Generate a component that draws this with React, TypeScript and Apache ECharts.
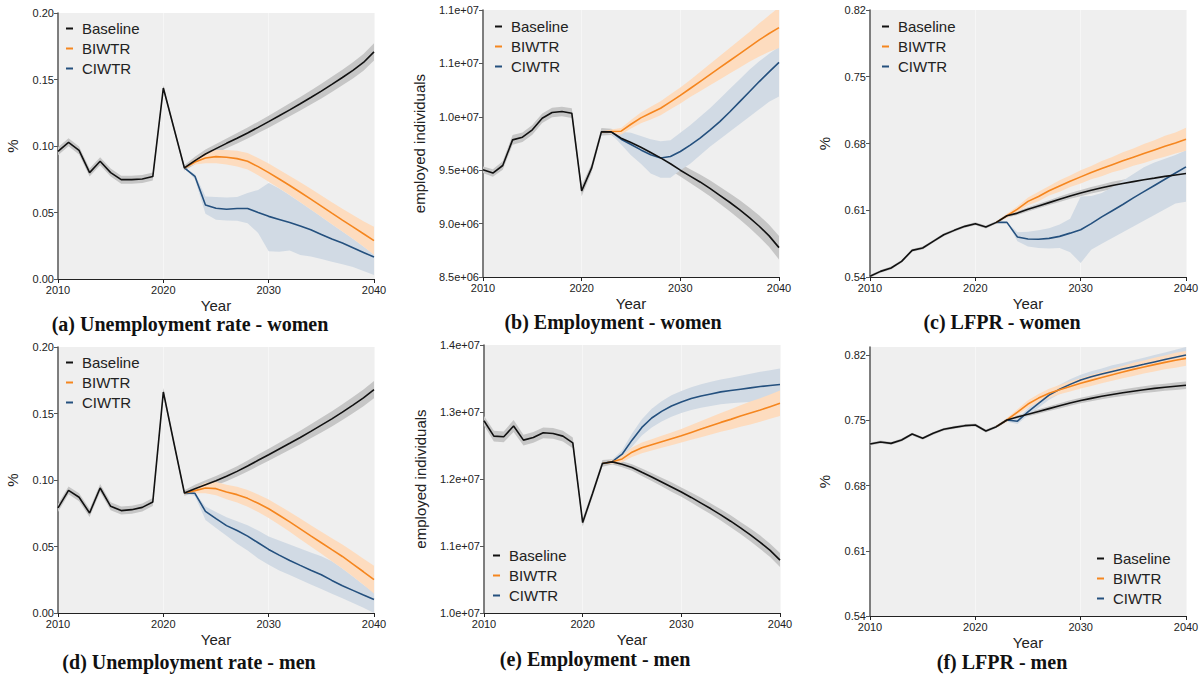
import React, { useEffect, useRef } from "react";
import * as echarts from "echarts";

// ---------- categories ----------
const YEARS = [2010, 2011, 2012, 2013, 2014, 2015, 2016, 2017, 2018, 2019, 2020, 2021, 2022, 2023, 2024, 2025, 2026, 2027, 2028, 2029, 2030, 2031, 2032, 2033, 2034, 2035, 2036, 2037, 2038, 2039, 2040];
const PROJ_YEARS = [2022, 2023, 2024, 2025, 2026, 2027, 2028, 2029, 2030, 2031, 2032, 2033, 2034, 2035, 2036, 2037, 2038, 2039, 2040];
const SERIES_NAMES = ["Baseline", "BIWTR", "CIWTR"];
const CAPTIONS = [
  "(a) Unemployment rate - women",
  "(b) Employment - women",
  "(c) LFPR - women",
  "(d) Unemployment rate - men",
  "(e) Employment - men",
  "(f) LFPR - men",
];
const TICKS_RATE = [0.0, 0.05, 0.1, 0.15, 0.2];
const TICKS_EMP_W = [8.5e6, 9.0e6, 9.5e6, 1.0e7, 1.05e7, 1.1e7];
const TICKS_EMP_M = [1.0e7, 1.1e7, 1.2e7, 1.3e7, 1.4e7];
const TICKS_LFPR = [0.54, 0.61, 0.68, 0.75, 0.82];

// ---------- (a) Unemployment rate - women ----------
const baseA = [0.096, 0.1028, 0.0967, 0.080, 0.0885, 0.080, 0.0747, 0.0747, 0.0752, 0.077, 0.1436, 0.1135, 0.0835, 0.089, 0.094, 0.098, 0.102, 0.1058, 0.1098, 0.114, 0.1183, 0.1227, 0.1272, 0.1318, 0.1365, 0.1413, 0.1463, 0.1515, 0.1568, 0.1628, 0.1708];
const baseHwA = [0.003, 0.003, 0.003, 0.003, 0.003, 0.003, 0.003, 0.003, 0.003, 0.003, 0.002, 0.002, 0.002, 0.003, 0.0033, 0.0035, 0.0037, 0.0039, 0.0041, 0.0043, 0.0045, 0.0047, 0.0049, 0.0051, 0.0053, 0.0055, 0.0057, 0.0059, 0.0061, 0.0063, 0.0065];
const biA = [0.0835, 0.088, 0.091, 0.092, 0.0915, 0.0905, 0.0885, 0.0845, 0.080, 0.0752, 0.0703, 0.0652, 0.060, 0.0548, 0.0495, 0.0443, 0.0392, 0.034, 0.0288];
const biHwA = [0, 0.002, 0.004, 0.005, 0.0055, 0.006, 0.0062, 0.0065, 0.0068, 0.007, 0.0072, 0.0075, 0.0078, 0.008, 0.0083, 0.0086, 0.009, 0.0095, 0.0105];
const ciA = [0.0835, 0.0772, 0.0557, 0.0532, 0.0525, 0.053, 0.053, 0.050, 0.0471, 0.0448, 0.0425, 0.0398, 0.037, 0.0335, 0.030, 0.027, 0.0235, 0.020, 0.0165];
const ciLoA = [0.0835, 0.075, 0.049, 0.0446, 0.044, 0.0438, 0.042, 0.0346, 0.0208, 0.0205, 0.0215, 0.018, 0.017, 0.015, 0.013, 0.011, 0.009, 0.006, 0.003];
const ciHiA = [0.0835, 0.079, 0.062, 0.0617, 0.0612, 0.0617, 0.0647, 0.067, 0.0722, 0.068, 0.063, 0.0577, 0.0522, 0.0468, 0.0412, 0.0357, 0.0302, 0.0245, 0.0185];

// ---------- (b) Employment - women ----------
const baseB = [9.504e6, 9.473e6, 9.544e6, 9.784e6, 9.809e6, 9.878e6, 9.987e6, 10.04e6, 10.049e6, 10.034e6, 9.307e6, 9.519e6, 9.859e6, 9.859e6, 9.80e6, 9.76e6, 9.715e6, 9.665e6, 9.615e6, 9.56e6, 9.50e6, 9.445e6, 9.39e6, 9.33e6, 9.265e6, 9.20e6, 9.13e6, 9.055e6, 8.975e6, 8.885e6, 8.775e6];
const baseHwB = [0.03e6, 0.035e6, 0.04e6, 0.045e6, 0.045e6, 0.045e6, 0.045e6, 0.045e6, 0.045e6, 0.045e6, 0.05e6, 0.04e6, 0.035e6, 0.03e6, 0.035e6, 0.04e6, 0.045e6, 0.05e6, 0.055e6, 0.06e6, 0.06e6, 0.065e6, 0.07e6, 0.075e6, 0.08e6, 0.085e6, 0.09e6, 0.095e6, 0.1e6, 0.105e6, 0.11e6];
const biB = [9.859e6, 9.862e6, 9.865e6, 9.93e6, 9.99e6, 10.035e6, 10.08e6, 10.14e6, 10.2e6, 10.265e6, 10.33e6, 10.395e6, 10.46e6, 10.525e6, 10.59e6, 10.655e6, 10.72e6, 10.78e6, 10.835e6];
const biHwB = [0, 0.02e6, 0.03e6, 0.04e6, 0.05e6, 0.06e6, 0.065e6, 0.07e6, 0.075e6, 0.08e6, 0.09e6, 0.1e6, 0.11e6, 0.12e6, 0.13e6, 0.14e6, 0.155e6, 0.17e6, 0.19e6];
const ciB = [9.859e6, 9.859e6, 9.79e6, 9.74e6, 9.69e6, 9.645e6, 9.615e6, 9.628e6, 9.675e6, 9.735e6, 9.80e6, 9.875e6, 9.955e6, 10.045e6, 10.14e6, 10.235e6, 10.33e6, 10.42e6, 10.51e6];
const ciLoB = [9.859e6, 9.84e6, 9.74e6, 9.64e6, 9.56e6, 9.47e6, 9.43e6, 9.43e6, 9.50e6, 9.56e6, 9.64e6, 9.72e6, 9.79e6, 9.86e6, 9.93e6, 10.0e6, 10.07e6, 10.14e6, 10.19e6];
const ciHiB = [9.859e6, 9.875e6, 9.86e6, 9.85e6, 9.82e6, 9.79e6, 9.77e6, 9.78e6, 9.85e6, 9.92e6, 10.0e6, 10.08e6, 10.17e6, 10.26e6, 10.35e6, 10.44e6, 10.52e6, 10.59e6, 10.655e6];

// ---------- (c) LFPR - women ----------
const baseC = [0.5407, 0.5459, 0.5494, 0.5564, 0.5679, 0.5704, 0.5774, 0.5843, 0.5889, 0.5931, 0.5959, 0.5924, 0.5973, 0.6042, 0.607, 0.611, 0.6145, 0.618, 0.6215, 0.625, 0.628, 0.631, 0.6335, 0.636, 0.638, 0.640, 0.642, 0.6437, 0.6455, 0.647, 0.6485];
const baseHwC = [0.0015, 0.0015, 0.0015, 0.0015, 0.0015, 0.0015, 0.0015, 0.0015, 0.0015, 0.0015, 0.0015, 0.0015, 0.0015, 0.0018, 0.002, 0.0022, 0.0024, 0.0026, 0.0028, 0.003, 0.0032, 0.0034, 0.0036, 0.0038, 0.004, 0.0042, 0.0044, 0.0046, 0.0048, 0.005, 0.0052];
const biC = [0.5973, 0.6042, 0.6112, 0.6193, 0.6245, 0.6305, 0.6355, 0.6405, 0.645, 0.6495, 0.6537, 0.6578, 0.6618, 0.6657, 0.6695, 0.6733, 0.677, 0.6806, 0.6845];
const biHwC = [0, 0.002, 0.003, 0.004, 0.005, 0.005, 0.006, 0.006, 0.007, 0.007, 0.008, 0.008, 0.009, 0.009, 0.01, 0.01, 0.011, 0.011, 0.012];
const ciC = [0.5973, 0.5973, 0.5819, 0.5798, 0.5796, 0.5805, 0.5826, 0.586, 0.5896, 0.596, 0.603, 0.6095, 0.616, 0.623, 0.6295, 0.636, 0.6425, 0.649, 0.6555];
const ciLoC = [0.5973, 0.5973, 0.5774, 0.5721, 0.5704, 0.570, 0.5705, 0.566, 0.5547, 0.5685, 0.575, 0.581, 0.587, 0.593, 0.599, 0.605, 0.611, 0.617, 0.619];
const ciHiC = [0.5973, 0.5973, 0.5868, 0.5875, 0.589, 0.591, 0.595, 0.601, 0.6245, 0.625, 0.628, 0.634, 0.641, 0.648, 0.655, 0.660, 0.664, 0.668, 0.673];

// ---------- (d) Unemployment rate - men ----------
const baseD = [0.079, 0.0922, 0.087, 0.0752, 0.094, 0.0802, 0.077, 0.0777, 0.0794, 0.0835, 0.1662, 0.128, 0.0902, 0.0935, 0.0965, 0.0995, 0.1028, 0.1065, 0.1105, 0.1148, 0.119, 0.1233, 0.1276, 0.132, 0.1366, 0.1413, 0.146, 0.151, 0.1563, 0.1618, 0.168];
const baseHwD = [0.003, 0.003, 0.003, 0.003, 0.003, 0.003, 0.003, 0.003, 0.003, 0.003, 0.003, 0.002, 0.002, 0.003, 0.0033, 0.0035, 0.0037, 0.0039, 0.0041, 0.0043, 0.0045, 0.0047, 0.0049, 0.0051, 0.0053, 0.0055, 0.0057, 0.0059, 0.0061, 0.0063, 0.0065];
const biD = [0.0902, 0.092, 0.094, 0.0935, 0.091, 0.089, 0.0862, 0.0825, 0.0784, 0.0735, 0.0685, 0.0633, 0.058, 0.0528, 0.0476, 0.0425, 0.0368, 0.031, 0.0251];
const biHwD = [0, 0.002, 0.004, 0.005, 0.0055, 0.006, 0.0063, 0.0066, 0.007, 0.0072, 0.0075, 0.0078, 0.008, 0.0083, 0.0086, 0.009, 0.0094, 0.0098, 0.0105];
const ciD = [0.0902, 0.090, 0.0764, 0.0709, 0.0657, 0.062, 0.0578, 0.0528, 0.0478, 0.0435, 0.0395, 0.0358, 0.0322, 0.0287, 0.0245, 0.0205, 0.017, 0.0135, 0.0101];
const ciLoD = [0.0902, 0.088, 0.070, 0.064, 0.058, 0.052, 0.047, 0.041, 0.0363, 0.032, 0.0285, 0.025, 0.0215, 0.018, 0.0145, 0.011, 0.0075, 0.004, 0.0];
const ciHiD = [0.0902, 0.0905, 0.080, 0.076, 0.072, 0.069, 0.066, 0.062, 0.0576, 0.0545, 0.0515, 0.0485, 0.0455, 0.0426, 0.039, 0.0335, 0.0274, 0.0212, 0.0155];

// ---------- (e) Employment - men ----------
const baseE = [12.869e6, 12.64e6, 12.63e6, 12.79e6, 12.58e6, 12.62e6, 12.69e6, 12.68e6, 12.64e6, 12.54e6, 11.35e6, 11.783e6, 12.232e6, 12.256e6, 12.22e6, 12.172e6, 12.10e6, 12.03e6, 11.955e6, 11.88e6, 11.805e6, 11.725e6, 11.64e6, 11.555e6, 11.465e6, 11.37e6, 11.27e6, 11.165e6, 11.055e6, 10.935e6, 10.79e6];
const baseHwE = [0.07e6, 0.08e6, 0.08e6, 0.09e6, 0.08e6, 0.08e6, 0.08e6, 0.08e6, 0.08e6, 0.08e6, 0.06e6, 0.05e6, 0.05e6, 0.04e6, 0.045e6, 0.05e6, 0.055e6, 0.06e6, 0.065e6, 0.07e6, 0.07e6, 0.075e6, 0.08e6, 0.08e6, 0.085e6, 0.09e6, 0.09e6, 0.095e6, 0.1e6, 0.1e6, 0.105e6];
const biE = [12.232e6, 12.256e6, 12.30e6, 12.40e6, 12.465e6, 12.51e6, 12.555e6, 12.60e6, 12.645e6, 12.695e6, 12.745e6, 12.795e6, 12.845e6, 12.89e6, 12.94e6, 12.985e6, 13.03e6, 13.08e6, 13.13e6];
const biHwE = [0, 0.03e6, 0.05e6, 0.07e6, 0.08e6, 0.085e6, 0.09e6, 0.095e6, 0.1e6, 0.11e6, 0.12e6, 0.13e6, 0.14e6, 0.15e6, 0.16e6, 0.17e6, 0.175e6, 0.18e6, 0.19e6];
const ciE = [12.232e6, 12.26e6, 12.37e6, 12.58e6, 12.77e6, 12.91e6, 13.01e6, 13.09e6, 13.15e6, 13.20e6, 13.24e6, 13.27e6, 13.30e6, 13.32e6, 13.34e6, 13.36e6, 13.38e6, 13.395e6, 13.41e6];
const ciHwE = [0, 0.03e6, 0.06e6, 0.1e6, 0.12e6, 0.14e6, 0.15e6, 0.16e6, 0.165e6, 0.17e6, 0.175e6, 0.18e6, 0.185e6, 0.19e6, 0.2e6, 0.21e6, 0.22e6, 0.23e6, 0.24e6];

// ---------- (f) LFPR - men ----------
const baseF = [0.7245, 0.7267, 0.7252, 0.7288, 0.7352, 0.7306, 0.736, 0.7403, 0.7424, 0.7442, 0.7449, 0.7385, 0.7431, 0.7503, 0.7535, 0.7565, 0.7595, 0.7625, 0.7655, 0.7685, 0.7712, 0.7735, 0.7757, 0.7777, 0.7795, 0.7812, 0.7828, 0.7842, 0.7855, 0.7865, 0.7875];
const baseHwF = [0.0015, 0.0015, 0.0015, 0.0015, 0.0015, 0.0015, 0.0015, 0.0015, 0.0015, 0.0015, 0.0015, 0.0015, 0.0015, 0.0018, 0.002, 0.0022, 0.0024, 0.0026, 0.0028, 0.003, 0.003, 0.0032, 0.0032, 0.0034, 0.0034, 0.0036, 0.0036, 0.0038, 0.0038, 0.004, 0.004];
const biF = [0.7431, 0.7503, 0.7588, 0.7674, 0.7738, 0.7789, 0.7828, 0.7863, 0.7896, 0.7928, 0.7958, 0.7988, 0.8017, 0.8046, 0.8072, 0.8097, 0.8121, 0.8143, 0.8164];
const biHwF = [0, 0.002, 0.003, 0.004, 0.0045, 0.005, 0.005, 0.0055, 0.0055, 0.006, 0.006, 0.0065, 0.0065, 0.007, 0.007, 0.0075, 0.0075, 0.008, 0.008];
const ciF = [0.7431, 0.7503, 0.749, 0.759, 0.768, 0.777, 0.7832, 0.7885, 0.7932, 0.7966, 0.7996, 0.8024, 0.805, 0.8075, 0.81, 0.8126, 0.8151, 0.8176, 0.82];
const ciHwF = [0, 0.002, 0.003, 0.004, 0.0045, 0.005, 0.005, 0.0055, 0.0055, 0.006, 0.006, 0.0065, 0.0065, 0.007, 0.007, 0.0075, 0.0075, 0.008, 0.0085];

// ---------- styling ----------
const COL_BASE = "#111111";
const COL_BI = "#f5861f";
const COL_CI = "#24507e";
const BAND_BASE = "#c6c6c6";
const BAND_BI = "#fddcbf";
const BAND_CI = "#d1dae4";
const PLOT_BG = "#efefef";
const SANS = '"Liberation Sans", Arial, Helvetica, sans-serif';
const SERIF = '"Liberation Serif", "Times New Roman", serif';

const sub = (a: number[], b: number[]) => a.map((v, i) => v - b[i]);
const add = (a: number[], b: number[]) => a.map((v, i) => v + b[i]);
const pairs = (xs: number[], ys: number[]) => xs.map((x, i) => [x, ys[i]]);

const expFmt = (v: number) => v.toExponential(1).replace(/e([+-])(\d)$/, "e$10$2");
const f2 = (v: number) => v.toFixed(2);

type Panel = {
  grid: { left: number; top: number; width: number; height: number };
  yMin: number; yMax: number; ticks: number[]; fmt: (v: number) => string;
  yName: string; yNameGap: number;
  base: number[]; baseLo: number[]; baseHi: number[];
  bi: number[]; biLo: number[]; biHi: number[];
  ci: number[]; ciLo: number[]; ciHi: number[];
  legend: { left: number; top: number };
  caption: { x: number; y: number };
};

const PANELS: Panel[] = [
  {
    grid: { left: 58, top: 13, width: 316, height: 266 }, yMin: 0, yMax: 0.2, ticks: TICKS_RATE, fmt: f2,
    yName: "%", yNameGap: 38,
    base: baseA, baseLo: sub(baseA, baseHwA), baseHi: add(baseA, baseHwA),
    bi: biA, biLo: sub(biA, biHwA), biHi: add(biA, biHwA),
    ci: ciA, ciLo: ciLoA, ciHi: ciHiA,
    legend: { left: 66, top: 21 }, caption: { x: 190, y: 324 },
  },
  {
    grid: { left: 483, top: 10, width: 296, height: 267 }, yMin: 8.5e6, yMax: 1.1e7, ticks: TICKS_EMP_W, fmt: expFmt,
    yName: "employed individuals", yNameGap: 56,
    base: baseB, baseLo: sub(baseB, baseHwB), baseHi: add(baseB, baseHwB),
    bi: biB, biLo: sub(biB, biHwB), biHi: add(biB, biHwB),
    ci: ciB, ciLo: ciLoB, ciHi: ciHiB,
    legend: { left: 495, top: 19 }, caption: { x: 613, y: 322 },
  },
  {
    grid: { left: 870, top: 10, width: 316, height: 267 }, yMin: 0.54, yMax: 0.82, ticks: TICKS_LFPR, fmt: f2,
    yName: "%", yNameGap: 38,
    base: baseC, baseLo: sub(baseC, baseHwC), baseHi: add(baseC, baseHwC),
    bi: biC, biLo: sub(biC, biHwC), biHi: add(biC, biHwC),
    ci: ciC, ciLo: ciLoC, ciHi: ciHiC,
    legend: { left: 882, top: 19 }, caption: { x: 1002, y: 322 },
  },
  {
    grid: { left: 58, top: 347, width: 316, height: 266 }, yMin: 0, yMax: 0.2, ticks: TICKS_RATE, fmt: f2,
    yName: "%", yNameGap: 38,
    base: baseD, baseLo: sub(baseD, baseHwD), baseHi: add(baseD, baseHwD),
    bi: biD, biLo: sub(biD, biHwD), biHi: add(biD, biHwD),
    ci: ciD, ciLo: ciLoD, ciHi: ciHiD,
    legend: { left: 66, top: 355 }, caption: { x: 189, y: 662 },
  },
  {
    grid: { left: 484, top: 345, width: 296, height: 268 }, yMin: 1.0e7, yMax: 1.4e7, ticks: TICKS_EMP_M, fmt: expFmt,
    yName: "employed individuals", yNameGap: 56,
    base: baseE, baseLo: sub(baseE, baseHwE), baseHi: add(baseE, baseHwE),
    bi: biE, biLo: sub(biE, biHwE), biHi: add(biE, biHwE),
    ci: ciE, ciLo: sub(ciE, ciHwE), ciHi: add(ciE, ciHwE),
    legend: { left: 493, top: 548 }, caption: { x: 595, y: 659 },
  },
  {
    grid: { left: 870, top: 347, width: 316, height: 269 }, yMin: 0.54, yMax: 0.8286, ticks: TICKS_LFPR, fmt: f2,
    yName: "%", yNameGap: 38,
    base: baseF, baseLo: sub(baseF, baseHwF), baseHi: add(baseF, baseHwF),
    bi: biF, biLo: sub(biF, biHwF), biHi: add(biF, biHwF),
    ci: ciF, ciLo: sub(ciF, ciHwF), ciHi: add(ciF, ciHwF),
    legend: { left: 1097, top: 551 }, caption: { x: 1002, y: 662 },
  },
];

// A confidence band drawn as one polygon through the axis scales (api.coord)
function bandSeries(key: string, idx: number, xs: number[], lo: number[], hi: number[], color: string, z: number) {
  return {
    type: "custom", name: key, xAxisIndex: idx, yAxisIndex: idx, z, silent: true, clip: true,
    data: xs.map((x, i) => [x, lo[i], hi[i]]),
    encode: { x: 0, y: [1, 2] },
    renderItem: (params: any, api: any) => {
      if (params.dataIndex !== 0) return null;
      const pts: number[][] = [];
      for (let i = 0; i < xs.length; i++) pts.push(api.coord([xs[i], hi[i]]));
      for (let i = xs.length - 1; i >= 0; i--) pts.push(api.coord([xs[i], lo[i]]));
      return { type: "polygon", shape: { points: pts }, style: { fill: color, stroke: null } };
    },
  };
}

function lineSeries(name: string, idx: number, xs: number[], ys: number[], color: string, z: number) {
  return {
    type: "line", name, xAxisIndex: idx, yAxisIndex: idx, data: pairs(xs, ys), symbol: "none",
    color, itemStyle: { color }, lineStyle: { color, width: 1.6 }, z,
  };
}

function buildOption() {
  const grid: any[] = [];
  const xAxis: any[] = [];
  const yAxis: any[] = [];
  const series: any[] = [];
  const legend: any[] = [];
  const graphic: any[] = [];

  PANELS.forEach((p, i) => {
    grid.push({ ...p.grid, show: true, backgroundColor: PLOT_BG, borderWidth: 0, containLabel: false });
    xAxis.push({
      type: "value", gridIndex: i, min: 2010, max: 2040, interval: 10,
      name: "Year", nameLocation: "middle", nameGap: 19,
      nameTextStyle: { fontFamily: SANS, fontSize: 15, color: "#222" },
      axisLine: { show: true, onZero: false, lineStyle: { color: "#222", width: 1 } },
      axisTick: { show: true, length: 4, lineStyle: { color: "#222" } },
      axisLabel: { fontFamily: SANS, fontSize: 11, color: "#222", margin: 5, formatter: (v: number) => String(v) },
      splitLine: { show: true, lineStyle: { color: "#f6f6f6", width: 1 } },
    });
    yAxis.push({
      type: "value", gridIndex: i, min: p.yMin, max: p.yMax,
      name: p.yName, nameLocation: "middle", nameGap: p.yNameGap,
      nameTextStyle: { fontFamily: SANS, fontSize: 15, color: "#222" },
      axisLine: { show: true, onZero: false, lineStyle: { color: "#555", width: 1.5 } },
      axisTick: { show: true, length: 4, lineStyle: { color: "#555" }, customValues: p.ticks },
      axisLabel: { fontFamily: SANS, fontSize: 11, color: "#222", margin: 4, customValues: p.ticks, formatter: p.fmt },
      splitLine: { show: false },
    });

    series.push(bandSeries("base" + i, i, YEARS, p.baseLo, p.baseHi, BAND_BASE, 1));
    series.push(bandSeries("ci" + i, i, PROJ_YEARS, p.ciLo, p.ciHi, BAND_CI, 2));
    series.push(bandSeries("bi" + i, i, PROJ_YEARS, p.biLo, p.biHi, BAND_BI, 2));
    series.push(lineSeries("CIWTR", i, PROJ_YEARS, p.ci, COL_CI, 4));
    series.push(lineSeries("BIWTR", i, PROJ_YEARS, p.bi, COL_BI, 4));
    series.push(lineSeries("Baseline", i, YEARS, p.base, COL_BASE, 5));

    legend.push({
      left: p.legend.left, top: p.legend.top, orient: "vertical", data: SERIES_NAMES,
      icon: "rect", itemWidth: 7, itemHeight: 2, itemGap: 5, padding: 0,
      textStyle: { fontFamily: SANS, fontSize: 15, color: "#222", padding: [0, 0, 0, 4] },
      selectedMode: false,
    });

    graphic.push({
      type: "text", x: p.caption.x, y: p.caption.y,
      style: {
        text: CAPTIONS[i], font: `bold 20px ${SERIF}`, fill: "#111",
        align: "center", verticalAlign: "middle", textAlign: "center", textVerticalAlign: "middle",
      },
    });
  });

  return { animation: false, backgroundColor: "#ffffff", grid, xAxis, yAxis, series, legend, graphic };
}

export default function App() {
  const ref = useRef<HTMLDivElement>(null);
  useEffect(() => {
    if (!ref.current) return;
    const chart = echarts.init(ref.current, null, { renderer: "svg" });
    chart.setOption(buildOption() as any);
    return () => chart.dispose();
  }, []);
  return (
    <div
      ref={ref}
      style={{ position: "fixed", left: 0, top: 0, width: 1204, height: 678, background: "#fff" }}
    />
  );
}
